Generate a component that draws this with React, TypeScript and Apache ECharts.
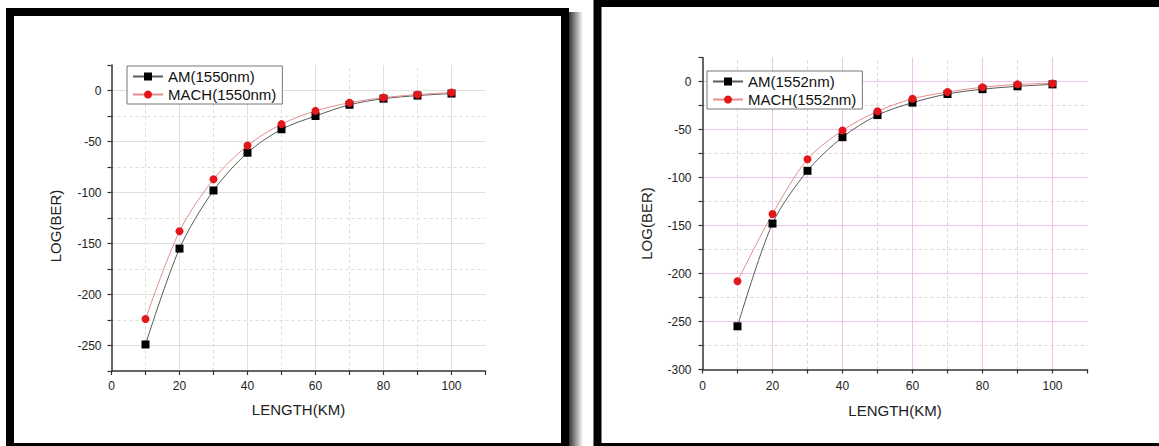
import { useEffect, useRef } from 'react';
import * as echarts from 'echarts';

// ---- data ----
const lengthKm = [10, 20, 30, 40, 50, 60, 70, 80, 90, 100];
const am1550 = [-249, -155, -98, -61, -38, -25, -14, -8, -5, -3];
const mach1550 = [-224, -138, -87, -54, -33, -20, -12, -7, -4, -2];
const am1552 = [-255, -148, -93, -58, -35, -22, -13, -8, -5, -3];
const mach1552 = [-208, -138, -81, -51, -31, -18, -11, -6, -3, -2];

const xTickLabels = [0, 20, 40, 60, 80, 100];
const yTickLabelsLeft = [0, -50, -100, -150, -200, -250];
const yTickLabelsRight = [0, -50, -100, -150, -200, -250, -300];

const seriesNamesLeft = ['AM(1550nm)', 'MACH(1550nm)'];
const seriesNamesRight = ['AM(1552nm)', 'MACH(1552nm)'];

const FONT = 'Liberation Sans, Arial, sans-serif';

function pairs(xs: number[], ys: number[]) {
  return xs.map((x, i) => [x, ys[i]]);
}

function makeAxes(o: {
  yMin: number; yLabels: number[]; xNameGap: number; yNameGap: number;
  xMargin: number; yMargin: number; yNamePad: number;
}) {
  const axisText = () => ({ fontSize: 12, fontFamily: FONT, color: '#222' });
  const nameText = () => ({ fontSize: 15, fontFamily: FONT, color: '#222' });
  const axisLine = () => ({ show: true, onZero: false, lineStyle: { color: '#333', width: 1.5 } });
  const axisTick = () => ({ show: true, inside: false, length: 4, lineStyle: { color: '#333', width: 1.2 } });
  const x = {
    type: 'value', min: 0, max: 110, interval: 10, z: 3,
    name: 'LENGTH(KM)', nameLocation: 'middle', nameGap: o.xNameGap, nameTextStyle: nameText(),
    axisLine: axisLine(), axisTick: axisTick(),
    axisLabel: { ...axisText(), margin: o.xMargin, formatter: (v: number) => (xTickLabels.includes(v) ? String(v) : '') },
    splitLine: { show: false },
  };
  const y = {
    type: 'value', min: o.yMin, max: 25, interval: 25, z: 3,
    name: 'LOG(BER)', nameLocation: 'middle', nameGap: o.yNameGap,
    nameTextStyle: { ...nameText(), padding: [0, o.yNamePad, 0, 0] },
    axisLine: axisLine(), axisTick: axisTick(),
    axisLabel: { ...axisText(), margin: o.yMargin, formatter: (v: number) => (o.yLabels.includes(v) ? String(v) : '') },
    splitLine: { show: false },
  };
  return { x, y };
}

// grid lines drawn as mark lines at tick values, through the axes' scales
function gridSeries(yMin: number, yLabels: number[], major: string, minor: string) {
  const majorX = xTickLabels.filter((v) => v > 0);
  const minorX = majorX.map((v) => v - 10);
  const majorY = yLabels.filter((v) => v > yMin);
  const minorY = majorY.map((v) => v - 25).filter((v) => v > yMin);
  const solid = { color: major, width: 1, type: 'solid' };
  const dashed = { color: minor, width: 1, type: [3, 3] };
  const data = [
    ...minorX.map((v) => ({ xAxis: v, lineStyle: dashed })),
    ...minorY.map((v) => ({ yAxis: v, lineStyle: dashed })),
    ...majorX.map((v) => ({ xAxis: v, lineStyle: solid })),
    ...majorY.map((v) => ({ yAxis: v, lineStyle: solid })),
  ];
  return {
    name: 'grid', type: 'line', xAxisIndex: 0, yAxisIndex: 0, data: [],
    silent: true, z: 1,
    markLine: {
      silent: true, z: 1, animation: false, symbol: ['none', 'none'],
      label: { show: false }, emphasis: { disabled: true },
      data,
    },
  };
}

function lineSeries(name: string, ys: number[], kind: 'am' | 'mach') {
  return {
    name, type: 'line', xAxisIndex: 0, yAxisIndex: 0,
    data: pairs(lengthKm, ys),
    smooth: 0.3,
    symbol: kind === 'am' ? 'rect' : 'circle',
    symbolSize: 8,
    itemStyle: { color: kind === 'am' ? '#000000' : '#e3161b' },
    lineStyle: { color: kind === 'am' ? '#5a5a5a' : '#e58c8c', width: 1 },
    z: 5,
  };
}

function legendOpt(left: number, top: number, names: string[]) {
  return {
    orient: 'vertical', left, top, data: names,
    itemWidth: 30, itemHeight: 10, itemGap: 3,
    padding: [3, 6, 2, 5], borderColor: '#777', borderWidth: 1, backgroundColor: '#fff',
    textStyle: { fontSize: 15, fontFamily: FONT, color: '#111' },
  };
}

function leftOption() {
  const ax = makeAxes({
    yMin: -275, yLabels: yTickLabelsLeft,
    xNameGap: 31, yNameGap: 49, xMargin: 9, yMargin: 10, yNamePad: 16,
  });
  return {
    animation: false,
    backgroundColor: '#ffffff',
    grid: { left: 111.5, top: 65, width: 374, height: 306 },
    xAxis: ax.x, yAxis: ax.y,
    legend: legendOpt(127, 66, seriesNamesLeft),
    series: [
      gridSeries(-275, yTickLabelsLeft, '#e0e0e0', '#d6e2cf'),
      lineSeries(seriesNamesLeft[0], am1550, 'am'),
      lineSeries(seriesNamesLeft[1], mach1550, 'mach'),
    ],
    graphic: [
      {
        type: 'rect', z: 100, silent: true,
        shape: { x: 569, y: 12, width: 14, height: 440 },
        style: {
          fill: new echarts.graphic.LinearGradient(0, 0, 1, 0, [
            { offset: 0, color: 'rgba(0,0,0,0.8)' },
            { offset: 1, color: 'rgba(0,0,0,0)' },
          ]),
        },
      },
      {
        type: 'rect', z: 101, silent: true,
        shape: { x: 10, y: 12, width: 555, height: 435 },
        style: { fill: 'transparent', stroke: '#000', lineWidth: 8 },
      },
    ],
  };
}

function rightOption() {
  const ax = makeAxes({
    yMin: -300, yLabels: yTickLabelsRight,
    xNameGap: 33, yNameGap: 49, xMargin: 10, yMargin: 11, yNamePad: 20,
  });
  return {
    animation: false,
    backgroundColor: '#ffffff',
    grid: { left: 112.5, top: 57.5, width: 385, height: 312 },
    xAxis: ax.x, yAxis: ax.y,
    legend: legendOpt(117, 71, seriesNamesRight),
    series: [
      gridSeries(-300, yTickLabelsRight, '#eec2ec', '#d4d4d4'),
      lineSeries(seriesNamesRight[0], am1552, 'am'),
      lineSeries(seriesNamesRight[1], mach1552, 'mach'),
    ],
    graphic: [
      {
        type: 'rect', z: 101, silent: true,
        shape: { x: 7.5, y: 3, width: 620, height: 444 },
        style: { fill: 'transparent', stroke: '#000', lineWidth: 8 },
      },
    ],
  };
}

function Panel({ left, width, build }: { left: number; width: number; build: () => any }) {
  const ref = useRef<HTMLDivElement>(null);
  useEffect(() => {
    if (!ref.current) return;
    const chart = echarts.init(ref.current, undefined, { renderer: 'svg' });
    chart.setOption(build());
    return () => chart.dispose();
  }, []);
  return (
    <div
      ref={ref}
      style={{ position: 'absolute', left, top: 0, width, height: 446, background: '#fff' }}
    />
  );
}

export default function App() {
  return (
    <div style={{ position: 'absolute', left: 0, top: 0, width: 1159, height: 446, background: '#fff' }}>
      <Panel left={0} width={590} build={leftOption} />
      <Panel left={590} width={569} build={rightOption} />
    </div>
  );
}
